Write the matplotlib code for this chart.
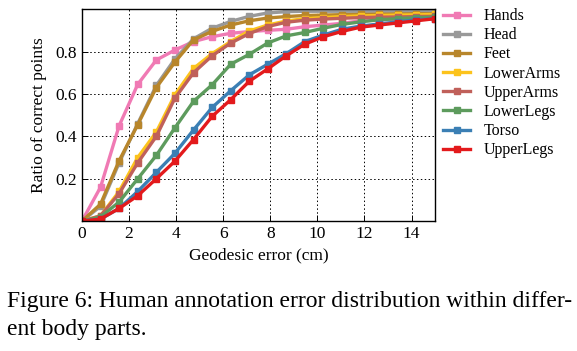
import matplotlib
matplotlib.use('Agg')
import matplotlib.pyplot as plt

plt.rcParams['font.family'] = ['Liberation Serif', 'DejaVu Serif']

# posiciones del eje x (20 puntos entre 0 y 15 cm)
errores = [0.0, 0.79, 1.58, 2.37, 3.16, 3.95, 4.74, 5.53, 6.32, 7.11,
           7.89, 8.68, 9.47, 10.26, 11.05, 11.84, 12.63, 13.42, 14.21, 15.0]

hands = [0, 0.16, 0.45, 0.645, 0.76, 0.807, 0.847, 0.87, 0.886, 0.894,
         0.90, 0.905, 0.917, 0.925, 0.933, 0.945, 0.949, 0.953, 0.957, 0.96]
head = [0, 0.07, 0.275, 0.46, 0.64, 0.765, 0.86, 0.91, 0.942, 0.966,
        0.982, 0.988, 0.99, 0.99, 0.99, 0.99, 0.99, 0.99, 0.99, 0.99]
feet = [0, 0.08, 0.285, 0.455, 0.63, 0.75, 0.855, 0.895, 0.925, 0.945,
        0.958, 0.965, 0.97, 0.972, 0.974, 0.975, 0.976, 0.977, 0.978, 0.978]
lower_arms = [0, 0.025, 0.14, 0.30, 0.42, 0.596, 0.72, 0.79, 0.847, 0.897,
              0.925, 0.944, 0.955, 0.96, 0.965, 0.968, 0.97, 0.972, 0.973, 0.975]
upper_arms = [0, 0.025, 0.13, 0.275, 0.40, 0.58, 0.70, 0.78, 0.84, 0.885,
              0.918, 0.938, 0.948, 0.953, 0.957, 0.96, 0.962, 0.963, 0.965, 0.966]
lower_legs = [0, 0.02, 0.09, 0.20, 0.31, 0.44, 0.565, 0.643, 0.74, 0.787,
              0.84, 0.874, 0.89, 0.91, 0.928, 0.94, 0.95, 0.955, 0.96, 0.962]
torso = [0, 0.01, 0.06, 0.14, 0.23, 0.32, 0.43, 0.536, 0.615, 0.69,
         0.74, 0.79, 0.847, 0.878, 0.905, 0.92, 0.93, 0.94, 0.95, 0.955]
upper_legs = [0, 0.01, 0.06, 0.12, 0.20, 0.283, 0.385, 0.494, 0.573, 0.66,
              0.718, 0.78, 0.835, 0.87, 0.895, 0.915, 0.925, 0.935, 0.945, 0.955]

nombres = ['Hands', 'Head', 'Feet', 'LowerArms', 'UpperArms',
           'LowerLegs', 'Torso', 'UpperLegs']
series = [hands, head, feet, lower_arms, upper_arms, lower_legs, torso, upper_legs]
colores = ['#f07ab4', '#999999', '#b8862b', '#fcc31c', '#c0605a',
           '#5d9b5d', '#3b7fb4', '#e31a1c']

fig = plt.figure(figsize=(5.77, 3.51), dpi=100)
ax = fig.add_axes([0.142, 0.370, 0.612, 0.604])

for nombre, valores, color in zip(nombres, series, colores):
    ax.plot(errores, valores, color=color, lw=2.4, marker='s', ms=4.2,
            label=nombre, clip_on=True)

ax.set_xlim(0, 15)
ax.set_ylim(0, 1.0)
ax.set_xticks(range(0, 15, 2))
ax.set_yticks([0.2, 0.4, 0.6, 0.8])
ax.set_yticklabels(['0.2', '0.4', '0.6', '0.8'])
ax.grid(True, color='black', linestyle=(0, (1.5, 2.5)), linewidth=0.7)
ax.tick_params(direction='in', top=False, right=False, labelsize=12.5,
               length=4, width=0.7)
for lado in ax.spines.values():
    lado.set_linewidth(1.0)

ax.set_xlabel('Geodesic error (cm)', fontsize=12.5, labelpad=4)
ax.set_ylabel('Ratio of correct points', fontsize=12.5, labelpad=6)

ax.legend(loc='upper left', bbox_to_anchor=(1.005, 1.035), frameon=False,
          fontsize=11.5, handlelength=1.7, labelspacing=0.2, borderaxespad=0.0,
          handletextpad=0.85)

fig.text(0.012, 0.125, 'Figure 6: Human annotation error distribution within differ-',
         fontsize=17, ha='left', va='baseline')
fig.text(0.012, 0.045, 'ent body parts.', fontsize=17, ha='left', va='baseline')

fig.savefig('out.png', dpi=100)
